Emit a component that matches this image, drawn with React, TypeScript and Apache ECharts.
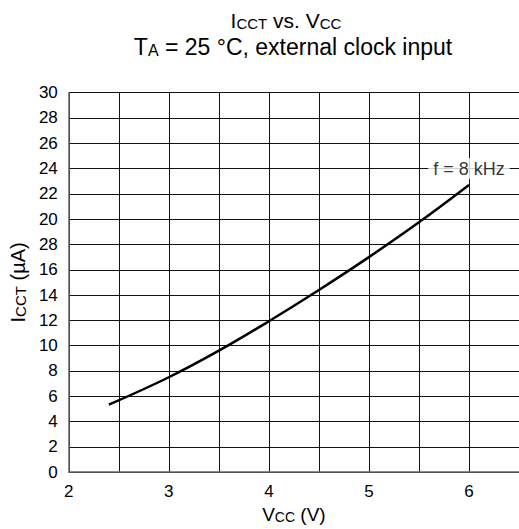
import React, { useEffect, useRef } from "react";
import * as echarts from "echarts";

const vccValues = [2.4, 3.0, 3.5, 4.0, 4.5, 5.0, 5.5, 6.0];
const icctValues = [5.33, 7.5, 9.6, 11.93, 14.4, 17.0, 19.75, 22.7];
const xTickLabels = ["2", "3", "4", "5", "6"];
const yTickLabels = ["0", "2", "4", "6", "8", "10", "12", "14", "16", "28", "20", "22", "24", "26", "28", "30"];
const curveLabel = "f = 8 kHz";
const curveLabelPoint = [6, 24];

const FONT = "Liberation Sans, Arial, Helvetica, sans-serif";

function tok(size: number, lh: number) {
  return { fontSize: size, fontFamily: FONT, fontWeight: "normal" as const, color: "#000", verticalAlign: "bottom" as const, lineHeight: lh };
}

export default function App() {
  const ref = useRef<HTMLDivElement>(null);
  useEffect(() => {
    if (!ref.current) return;
    const chart = echarts.init(ref.current, null, { renderer: "svg" });
    chart.setOption({
      animation: false,
      backgroundColor: "#fff",
      title: [
        {
          text: "{a|I}{s|CCT}{a| vs. V}{s|CC}",
          left: 281,
          top: 4,
          textAlign: "center",
          textStyle: { fontWeight: "normal", rich: { a: tok(21, 22), s: tok(15, 17) } },
        },
        {
          text: "{a|T}{s|A}{a| = 25 °C, external clock input}",
          left: 288,
          top: 29,
          textAlign: "center",
          textStyle: { fontWeight: "normal", rich: { a: tok(23, 24), s: tok(16, 18) } },
        },
      ],
      grid: { left: 65, top: 92.7, width: 456.3, height: 383, containLabel: false },
      xAxis: {
        type: "value",
        min: 2,
        max: 6.5,
        interval: 0.5,
        name: "{a|V}{s|CC}{a| (V)}",
        nameLocation: "middle",
        nameGap: 31,
        nameTextStyle: { rich: { a: tok(19, 20), s: tok(14, 16) } },
        axisLine: { show: true, lineStyle: { color: "#666", width: 1.5 } },
        axisTick: { show: false },
        axisLabel: {
          fontSize: 17,
          fontFamily: FONT,
          color: "#000",
          margin: 11,
          showMaxLabel: false,
          formatter: (v: number) => {
            const idx = xTickLabels.indexOf(String(v));
            return Number.isInteger(v) && idx >= 0 ? xTickLabels[idx] : "";
          },
        },
        splitLine: { show: true, lineStyle: { color: "#111", width: 1 } },
      },
      yAxis: {
        type: "value",
        min: 0,
        max: 30,
        interval: 2,
        name: "{a|I}{s|CCT}{a| (µA)}",
        nameLocation: "middle",
        nameGap: 37,
        nameTextStyle: { rich: { a: tok(20, 21), s: tok(15, 17) } },
        axisLine: { show: true, lineStyle: { color: "#666", width: 1.5 } },
        axisTick: { show: false },
        axisLabel: {
          fontSize: 17,
          fontFamily: FONT,
          color: "#000",
          margin: 11,
          formatter: (v: number) => yTickLabels[Math.round(v / 2)] ?? "",
        },
        splitLine: { show: true, lineStyle: { color: "#111", width: 1 } },
      },
      series: [
        {
          type: "line",
          data: vccValues.map((x, i) => [x, icctValues[i]]),
          smooth: 0.4,
          symbol: "none",
          lineStyle: { color: "#000", width: 2.5 },
          z: 3,
        },
        {
          type: "scatter",
          data: [curveLabelPoint],
          symbolSize: 0,
          z: 4,
          label: {
            show: true,
            position: "inside",
            formatter: () => curveLabel,
            fontSize: 18,
            fontFamily: FONT,
            color: "#000",
            backgroundColor: "#fff",
            padding: [2, 5, 1, 5],
          },
        },
      ],
    });
    return () => chart.dispose();
  }, []);
  return <div ref={ref} style={{ position: "fixed", left: 0, top: 0, width: 519, height: 529 }} />;
}
